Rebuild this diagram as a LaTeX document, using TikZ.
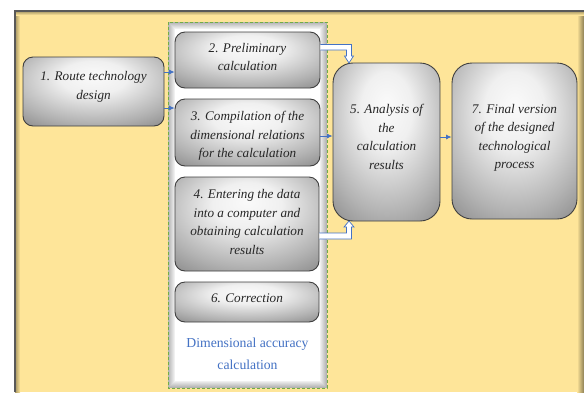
\documentclass[tikz,border=0pt]{standalone}
\usepackage{fontspec}
\setmainfont{Liberation Serif}
\usetikzlibrary{arrows.meta}

\definecolor{bgyellow}{HTML}{FEE599}
\definecolor{boxedge}{HTML}{3F3F3F}
\definecolor{flowblue}{HTML}{4472C4}
\definecolor{framegreen}{HTML}{70AD47}
\definecolor{steptext}{HTML}{262626}

% metallic grey fill of the process steps
\pgfdeclareradialshading{stepshade}{\pgfpoint{0bp}{12bp}}{%
  color(0bp)=(black!2); color(12bp)=(black!6); color(30bp)=(black!30);
  color(45bp)=(black!52); color(55bp)=(black!60); color(80bp)=(black!64)}

\tikzset{
  stepbox/.style={draw=boxedge, line width=0.9pt, rounded corners=10pt,
    shading=stepshade, inner sep=0pt},
  steptext/.style={align=center, inner sep=0pt, text=steptext,
    font=\itshape\fontsize{13.2}{18.4}\selectfont},
  flow/.style={draw=flowblue, line width=0.8pt,
    -{Latex[length=5.5pt,width=5pt]}},
  hollow/.style={draw=flowblue, line width=0.7pt, fill=white, line join=miter},
  grouptitle/.style={align=center, text=flowblue,
    font=\fontsize{13.7}{22}\selectfont}
}

\begin{document}
\begin{tikzpicture}[x=1pt, y=-1pt]
\useasboundingbox (0,0) rectangle (584,392);

% page background with its frame and shadow
\fill[bgyellow] (14,10) rectangle (584,392);
\shade[left color=bgyellow, right color=black!45!bgyellow] (577,10) rectangle (584,392);
\shade[left color=black!35!bgyellow, right color=bgyellow] (15,10) rectangle (20,392);
\shade[top color=black!35!bgyellow, bottom color=bgyellow] (14,11) rectangle (584,15);
\draw[black!65, line width=1.6pt] (14.8,392) -- (14.8,10.8) -- (584,10.8);

% group frame of the dimensional accuracy calculation
\foreach \k [evaluate=\k as \c using int(30-4*\k)] in {0,...,6}
  \fill[black!\c] (168+\k,22+\k) rectangle (327-\k,388-\k);
\fill[white] (175,29) rectangle (320,381);
\draw[framegreen, line width=0.8pt, dash pattern=on 3pt off 2pt] (168,22) rectangle (327,388);

% process step boxes
\node[stepbox, minimum width=141pt, minimum height=69pt] (route) at (93.5,91.5) {};
\node[stepbox, minimum width=145pt, minimum height=56pt] (prelim) at (247.5,60) {};
\node[stepbox, minimum width=145pt, minimum height=67pt] (compile) at (247.5,132.5) {};
\node[stepbox, minimum width=144pt, minimum height=94pt] (enter) at (247,224) {};
\node[stepbox, minimum width=144pt, minimum height=40pt] (correct) at (247,302) {};
\node[stepbox, rounded corners=20pt, minimum width=107pt, minimum height=158pt] (analysis) at (386.5,142) {};
\node[stepbox, rounded corners=20pt, minimum width=125pt, minimum height=156pt] (final) at (514.5,141) {};

% step texts
\node[steptext] (route-t) at (93.5,87) {1. Route technology\\design};
\node[steptext] (prelim-t) at (247.5,57) {2. Preliminary\\calculation};
\node[steptext] (compile-t) at (247.5,136) {3. Compilation of the\\dimensional relations\\for the calculation};
\node[steptext] (enter-t) at (247,222) {4. Entering the data\\into a computer and\\obtaining calculation\\results};
\node[steptext] (correct-t) at (247,298.5) {6. Correction};
\node[steptext] (analysis-t) at (386.5,137) {5. Analysis of\\the\\calculation\\results};
\node[steptext] (final-t) at (514.5,138) {7. Final version\\of the designed\\technological\\process};

\node[grouptitle] (title) at (247.5,354) {Dimensional accuracy\\calculation};

% thin flow arrows
\draw[flow] (route.east |- 0,72) -- (prelim.west |- 0,72);
\draw[flow] (route.east |- 0,108) -- (compile.west |- 0,108);
\draw[flow] (compile.east |- 0,136) -- (analysis.west |- 0,136);
\draw[flow] (analysis.east |- 0,137) -- (final.west |- 0,137);

% hollow block arrows into the analysis step
\coordinate (tipA) at (349,63);
\coordinate (tipB) at (349,221);
\draw[hollow] (prelim.east |- 0,44.5) -- (351.5,44.5) -- (351.5,56) -- (353.5,56)
  -- (tipA) -- (344.5,56) -- (346.5,56) -- (346.5,50) -- (prelim.east |- 0,50);
\draw[hollow] (enter.east |- 0,233) -- (346.5,233) -- (346.5,227) -- (344,227)
  -- (tipB) -- (354,227) -- (351.5,227) -- (351.5,239) -- (enter.east |- 0,239);
\end{tikzpicture}
\end{document}
